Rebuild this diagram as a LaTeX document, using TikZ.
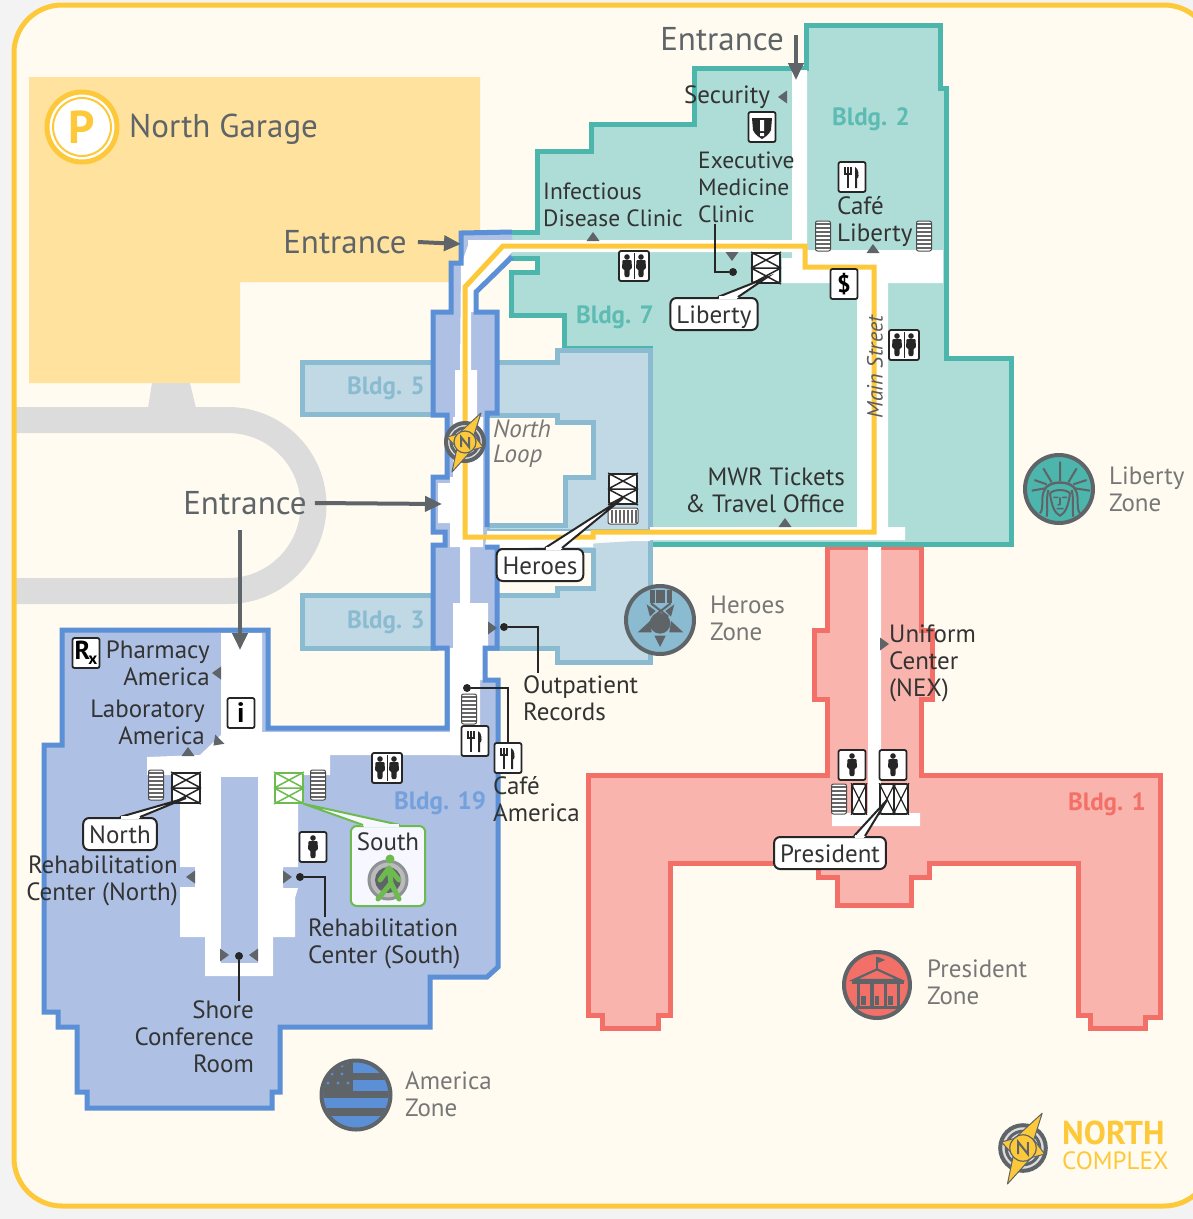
\documentclass[tikz,border=0pt]{standalone}
\usepackage{fontspec}
\setmainfont{PT Sans}
\usetikzlibrary{arrows.meta,calc}
\definecolor{pagec}{HTML}{F3F3F3}
\definecolor{creamc}{HTML}{FFFBF0}
\definecolor{yellowc}{HTML}{FDC93A}
\definecolor{garagec}{HTML}{FFE29E}
\definecolor{roadc}{HTML}{DCDCDC}
\definecolor{tealf}{HTML}{AEDCD7}
\definecolor{teals}{HTML}{4CB5AC}
\definecolor{tealt}{HTML}{5CBCB3}
\definecolor{herof}{HTML}{C1D9E5}
\definecolor{heros}{HTML}{8ABBD0}
\definecolor{bluef}{HTML}{AEC0E3}
\definecolor{blues}{HTML}{5B8FD6}
\definecolor{redf}{HTML}{F8B4AD}
\definecolor{reds}{HTML}{F37068}
\definecolor{greyc}{HTML}{5F6468}
\definecolor{darkc}{HTML}{333333}
\definecolor{zonec}{HTML}{777777}
\definecolor{greenc}{HTML}{6DBB4F}
\tikzset{
 lbl/.style={font=\fontsize{25}{27}\selectfont,text=darkc,inner sep=0pt},
 lblL/.style={lbl,align=left,anchor=west},
 lblR/.style={lbl,align=right,anchor=east},
 zone/.style={lblL,text=zonec},
 big/.style={font=\fontsize{33}{36}\selectfont,text=greyc,inner sep=0pt},
 bldg/.style={font=\fontsize{25}{27}\selectfont\bfseries,inner sep=0pt},
 call/.style={lbl,draw=black!85,line width=2pt,fill=white,rounded corners=6pt,inner xsep=6pt,inner ysep=0pt,text height=20pt,text depth=2pt,minimum height=32pt},
 icon/.style={draw=black!85,fill=white,rounded corners=2pt,line width=1.8pt,minimum width=27pt,minimum height=30pt,inner sep=0pt},
 elev/.style={draw=black!85,fill=white,rounded corners=1.5pt,line width=1.8pt,minimum width=28pt,minimum height=30pt,inner sep=0pt},
 stair/.style={draw=black!70,fill=white,rounded corners=2pt,line width=1pt,minimum width=15pt,minimum height=30pt,inner sep=0pt},
 arrowE/.style={draw=greyc,line width=4pt,-{Triangle[length=17pt,width=15pt]}},
 lead/.style={draw=black!85,line width=2pt},
 dotc/.style={circle,fill=black!85,minimum size=8pt,inner sep=0pt},
 mk/.style={fill=greyc},
 pics/man/.style={code={
   \fill[black!85] (0,-9) circle (2.8pt);
   \fill[black!85,rounded corners=1pt] (-4.5,-6) -- (4.5,-6) -- (5,3) -- (2.8,3) -- (2.4,11) -- (-2.4,11) -- (-2.8,3) -- (-5,3) -- cycle;
 }},
 pics/cutlery/.style={code={
   \draw[black!85,line width=2pt] (-4,-10) -- (-4,11);
   \draw[black!85,line width=1.2pt] (-7,-10) -- (-7,-3) -- (-1,-3) -- (-1,-10);
   \fill[black!85] (3,11) -- (3,-10) .. controls (7,-8) and (7,-1) .. (6,1) -- (5,1) -- (5,11) -- cycle;
 }},
 pics/compass/.style={code={
   \draw[draw=greyc,fill=roadc,line width=4pt] (0,0) circle (19pt);
   \draw[greyc,line width=3pt] (0,0) circle (14pt);
   \fill[yellowc,draw=greyc,line width=1pt,line join=round] (16,-29) -- (9,-7) -- (18,5) -- (7,8) -- (-13,30) -- (-8,6) -- (-18,-5) -- (-7,-8) -- cycle;
   \draw[draw=greyc,fill=yellowc,line width=1.2pt] (0,0) circle (11pt);
   \draw[greyc,line width=2pt] (-4,5) -- (-4,-5) -- (4,5) -- (4,-5);
 }},
}
\newcommand\Tri[3]{\fill[mk,shift={(#1,#2)},rotate=#3] (-4pt,-6.5pt) -- (5pt,0pt) -- (-4pt,6.5pt) -- cycle;}
\newcommand\ElevTwo[4]{\node[elev,draw=#4] (#1) at (#2,#3) {};
  \draw[#4,line width=1.5pt] (#1.west)--(#1.east) (#1.north west)--(#1.east) (#1.north east)--(#1.west) (#1.west)--(#1.south east) (#1.east)--(#1.south west);}
\newcommand\ElevOne[3]{\node[elev,minimum width=14pt] (#1) at (#2,#3) {};
  \draw[black!85,line width=1.2pt] (#1.north west)--(#1.south east) (#1.north east)--(#1.south west);}
\newcommand\Stair[3]{\node[stair] (#1) at (#2,#3) {};
  \foreach \s in {-13,-9,-5,-1,3,7,11}{\fill[black!60] ([yshift=\s pt,xshift=1pt]#1.west) rectangle ([yshift=\s pt+2.4pt,xshift=-1pt]#1.east);}}
\newcommand\Rest[3]{\node[icon,minimum width=30pt] (#1) at (#2,#3) {};
  \pic at ($(#1)+(-7,0)$) {man}; \pic at ($(#1)+(7,0)$) {man};
  \draw[black!85,line width=1pt] ([yshift=-3pt]#1.north) -- ([yshift=3pt]#1.south);}
\newcommand\Fork[3]{\node[icon] (#1) at (#2,#3) {}; \pic at (#1) {cutlery};}
\newcommand\Solo[3]{\node[icon] (#1) at (#2,#3) {}; \pic at (#1) {man};}
\begin{document}
\begin{tikzpicture}[x=1pt,y=-1pt,line join=miter]
\useasboundingbox (0,0) rectangle (1193,1219);
\fill[pagec] (0,0) rectangle (1193,1219);
\begin{scope}
\clip (0,0) rectangle (1193,1219);
\fill[creamc,rounded corners=48pt] (14,5) rectangle (1212,1206);
% garage
\fill[garagec] (29,77) -- (480,77) -- (480,282) -- (240,282) -- (240,383) -- (29,383) -- cycle;
% road
\fill[roadc] (152,383) -- (190,383) -- (196,408) -- (148,408) -- cycle;
\draw[roadc,line width=26pt] (15,420) -- (228,420) .. controls (275.2,420) and (313.5,458.3) .. (313.5,505.5) .. controls (313.5,552.7) and (275.2,591) .. (228,591) -- (15,591);
% building 1
\draw[fill=redf,draw=reds,line width=5pt] (827,547) -- (921,547) -- (921,630) -- (932,630) -- (932,699) -- (921,699) -- (921,775) -- (1160,775) -- (1160,1017) -- (1145,1017) -- (1145,1028) -- (1090,1028) -- (1090,1015) -- (1078,1015) -- (1078,863) -- (929,863) -- (929,877) -- (911,877) -- (911,905) -- (837,905) -- (837,877) -- (818,877) -- (818,863) -- (670,863) -- (670,1015) -- (658,1015) -- (658,1028) -- (602,1028) -- (602,1015) -- (588,1015) -- (588,775) -- (827,775) -- (827,699) -- (814,699) -- (814,630) -- (827,630) -- cycle;
\fill[white] (868,540) rectangle (881,814) (832,813) rectangle (920,826);
% teal buildings
\draw[fill=tealf,draw=teals,line width=5pt] (512,232) -- (537,232) -- (537,151) -- (591,151) -- (591,124) -- (694,124) -- (694,68) -- (806,68) -- (806,25) -- (940,25) -- (940,88) -- (946,88) -- (946,358) -- (1011,358) -- (1011,544) -- (650,544) -- (650,348) -- (564,348) -- (564,315) -- (511,315) -- (511,272) -- (537,272) -- (537,258) -- (512,258);
% heroes
\draw[fill=herof,draw=heros,line width=5pt] (302,362) rectangle (435,414);
\draw[fill=herof,draw=heros,line width=5pt] (302,595) rectangle (435,648);
\draw[fill=herof,draw=heros,line width=5pt] (490,362) -- (557,362) -- (557,350) -- (650,350) -- (650,531) -- (487,531) -- (487,525) -- (565,525) -- (565,477) -- (593,477) -- (593,422) -- (557,422) -- (557,415) -- (490,415) -- cycle;
\draw[fill=herof,draw=heros,line width=5pt] (650,540) -- (650,662) -- (557,662) -- (557,648) -- (490,648) -- (490,595) -- (557,595) -- (557,588) -- (593,588) -- (593,550) -- (490,550);
% building 19
\fill[bluef] (512,232) -- (461,233) -- (461,263) -- (451,263) -- (451,312) -- (433,312) -- (433,415) -- (447,415) -- (447,477) -- (433,477) -- (433,532) -- (445,532) -- (445,545) -- (433,545) -- (433,648) -- (447,648) -- (447,728) -- (268,728) -- (268,630) -- (62,630) -- (62,745) -- (44,745) -- (44,1012) -- (58,1012) -- (58,1027) -- (77,1027) -- (77,1092) -- (87,1092) -- (87,1108) -- (272,1108) -- (272,1092) -- (280,1092) -- (280,1027) -- (430,1027) -- (430,977) -- (487,977) -- (498,967) -- (498,680) -- (485,680) -- (485,648) -- (497,648) -- (497,547) -- (485,547) -- (487,530) -- (487,413) -- (497,413) -- (497,312) -- (476,312) -- (476,292) -- (512,257) -- cycle;
% white corridors
\fill[white] (468,240) rectangle (807,252) (792,70) rectangle (807,252) (782,258) rectangle (857,283) (792,250) rectangle (943,283) (857,283) rectangle (888,532) (650,527) rectangle (905,540) (593,534) rectangle (650,541) (487,531) rectangle (593,547);
\fill[white] (470,240) -- (512,240) -- (512,252) -- (476,290) -- (476,312) -- (471,312) -- (471,370) -- (460,370) -- (461,265) -- cycle;
\fill[white] (455,370) rectangle (477,417) (453,417) rectangle (483,477) (450,477) rectangle (483,547) (438,483) rectangle (450,523);
\fill[white] (460,545) rectangle (470,603) (453,603) rectangle (488,650) (450,648) rectangle (485,680) (450,680) rectangle (480,755);
\fill[white] (221,633) -- (262,633) -- (262,732) -- (480,732) -- (480,755) -- (330,755) -- (330,775) -- (298,775) -- (298,867) -- (283,867) -- (283,888) -- (298,888) -- (295,898) -- (295,937) -- (273,937) -- (273,976) -- (205,976) -- (205,937) -- (180,937) -- (180,887) -- (195,887) -- (195,867) -- (180,867) -- (180,775) -- (147,775) -- (147,757) -- (200,755) -- (221,735) -- cycle;
\fill[bluef] (221,777) rectangle (258,963);
% building 19 walls
\draw[blues,line width=5pt] (512,232) -- (461,233) -- (461,263) -- (451,263) -- (451,312) -- (433,312) -- (433,415) -- (447,415) -- (447,477) -- (433,477) -- (433,532) -- (445,532) -- (445,545) -- (433,545) -- (433,648) -- (447,648) -- (447,728) -- (268,728) -- (268,630) -- (62,630) -- (62,745) -- (44,745) -- (44,1012) -- (58,1012) -- (58,1027) -- (77,1027) -- (77,1092) -- (87,1092) -- (87,1108) -- (272,1108) -- (272,1092) -- (280,1092) -- (280,1027) -- (430,1027) -- (430,977) -- (487,977) -- (498,967) -- (498,680) -- (485,680) -- (485,648) -- (497,648) -- (497,547) -- (485,547);
\draw[blues,line width=5pt] (487,527) -- (487,413) -- (497,413) -- (497,312) -- (476,312) -- (476,292) -- (512,257);
% yellow loop
\draw[yellowc,line width=5pt] (465,287) -- (503,246) -- (805,246) -- (805,267) -- (874,267) -- (874,532) -- (593,532) -- (593,537) -- (465,537) -- cycle;
\end{scope}
% border
\draw[yellowc,line width=5pt,rounded corners=48pt] (14,5) rectangle (1212,1206);
% titles
\node[big,anchor=west] (garage) at (129,129) {North Garage};
\node[big] (ent1) at (722,39) {Entrance};
\node[big] (ent2) at (345,242) {Entrance};
\node[big] (ent3) at (245,503) {Entrance};
\coordinate (ent1t) at (796,80);
\coordinate (ent2t) at (461,244);
\coordinate (ent3a) at (442,504);
\coordinate (ent3b) at (240,650);
\coordinate (ent1s) at (796,35);
\coordinate (ent3c) at (240,530);
\draw[arrowE] (ent1s) -- (ent1t);
\draw[arrowE] (ent2.east) ++(11,0) -- (ent2t);
\draw[arrowE] (ent3.east) ++(8,0) -- (ent3a);
\draw[arrowE] (ent3c) -- (ent3b);
% parking badge
\node[circle,draw=yellowc,fill=white,line width=5pt,minimum size=70pt,inner sep=0pt] (pring) at (82,127) {};
\node[circle,draw=yellowc,line width=2pt,fill=white,minimum size=58pt,inner sep=0pt,text=yellowc,font=\fontsize{46}{46}\selectfont\bfseries] (pbadge) at (82,127) {P};
% building names
\node[bldg,text=tealt] (b2) at (871,119) {Bldg. 2};
\node[bldg,text=tealt] (b7) at (615,317) {Bldg. 7};
\node[bldg,text=heros] (b5) at (386,388) {Bldg. 5};
\node[bldg,text=heros] (b3) at (386,622) {Bldg. 3};
\node[bldg,text=blues!85!white] (b19) at (440,803) {Bldg. 19};
\node[bldg,text=reds] (b1) at (1107,804) {Bldg. 1};
% markers
\Tri{783}{97}{180}
\Tri{593}{237}{90}
\Tri{732}{256}{-90}
\Tri{873}{249}{90}
\Tri{785}{523}{90}
\Tri{884}{644}{0}
\Tri{492}{628}{0}
\Tri{217}{673}{180}
\Tri{217}{742}{-135}
\Tri{188}{752}{90}
\Tri{191}{877}{180}
\Tri{287}{877}{0}
\Tri{224}{955}{0}
\Tri{254}{955}{180}
% labels
\node[lbl] (sec) at (727,97) {Security};
\node[lblL,font=\fontsize{23.5}{27}\selectfont] (exec) at (698,187) {Executive\\Medicine\\Clinic};
\node[lblL,font=\fontsize{23.5}{27}\selectfont] (inf) at (543,205) {Infectious\\Disease Clinic};
\node[lblL] (cafel) at (837,222) {Café\\Liberty};
\node[lbl,rotate=90,font=\fontsize{22}{24}\selectfont\itshape,text=darkc!80!white] (main) at (875,367) {Main Street};
\node[lblR] (mwr) at (845,490) {MWR Tickets\\\&\ Travel Office};
\node[lblL,text=zonec,font=\fontsize{25}{25}\selectfont\itshape] (loop) at (493,444) {North\\Loop};
\node[lblL] (outp) at (523,698) {Outpatient\\Records};
\node[lblL] (unif) at (889,663) {Uniform\\Center\\(NEX)};
\node[lblR] (pharm) at (210,663) {Pharmacy\\America};
\node[lblR] (lab) at (205,722) {Laboratory\\America};
\node[lblR] (rehn) at (178,881) {Rehabilitation\\Center (North)};
\node[lblL] (rehs) at (308,944) {Rehabilitation\\Center (South)};
\node[lblR] (shore) at (254,1037) {Shore\\Conference\\Room};
\node[lblL] (cafea) at (493,799) {Café\\America};
\node[zone] (zl) at (1109,489) {Liberty\\Zone};
\node[zone] (zh) at (710,618) {Heroes\\Zone};
\node[zone] (zp) at (927,982) {President\\Zone};
\node[zone] (za) at (405,1094) {America\\Zone};
\node[anchor=west,inner sep=0pt,text=yellowc,font=\fontsize{33}{36}\selectfont\bfseries] (nc1) at (1062,1133) {NORTH};
\node[anchor=west,inner sep=0pt,text=yellowc,font=\fontsize{25}{28}\selectfont] (nc2) at (1062,1161) {COMPLEX};
% icons
\node[icon] (shield) at (762,127) {};
\fill[black!85] (752,118) -- (772,118) -- (771,130) .. controls (769,135) and (765,137) .. (762,139) .. controls (759,137) and (755,135) .. (753,130) -- cycle;
\fill[white] (760,120) rectangle (764,131) (760,133) rectangle (764,136);
\Fork{forkl}{852}{177}
\Stair{stl}{823}{236}
\Stair{str}{924}{236}
\Rest{r7}{634}{266}
\Rest{r2}{904}{345}
\Rest{r19}{387}{768}
\ElevTwo{elib}{766}{268}{black!85}
\node[icon,font=\fontsize{24}{24}\selectfont\bfseries,text=black] (dollar) at (844,284) {\$};
\ElevTwo{ehero}{623}{489}{black!85}
\node[stair,minimum width=30pt,minimum height=16pt] (sthero) at (623,516) {};
\foreach \s in {3,7,11,15,19,23,27}{\fill[black!60] ([xshift=\s pt,yshift=-2pt]sthero.north west) rectangle ([xshift=\s pt+2pt,yshift=2pt]sthero.south west);}
\node[icon,font=\fontsize{26}{26}\selectfont\bfseries,text=black] (rx) at (86,653) {R\kern-2pt\raisebox{-5pt}{\fontsize{17}{17}\selectfont x}};
\node[icon,font=\fontsize{28}{28}\selectfont\bfseries,text=black] (info) at (241,713) {i};
\Stair{stn}{156}{785}
\ElevTwo{enorth}{186}{788}{black!85}
\ElevTwo{esouth}{289}{788}{greenc}
\Stair{sts}{318}{785}
\Solo{ms}{313}{847}
\Stair{sta}{469}{709}
\Fork{fa1}{475}{741}
\Fork{fa2}{508}{758}
\Solo{m1a}{852}{765}
\Solo{m1b}{893}{765}
\Stair{st1}{839}{799}
\ElevOne{e1a}{859}{799}
\ElevOne{e1b}{887}{799}
\ElevOne{e1c}{901}{799}
% leaders
\node[dotc] (dexec) at (733,272) {};
\node[dotc] (doutp) at (504,627) {};
\node[dotc] (dcafe) at (467,688) {};
\node[dotc] (dreh) at (300,877) {};
\node[dotc] (dshore) at (239,956) {};
\draw[lead] ([xshift=17pt,yshift=-1pt]exec.south west) |- (dexec);
\draw[lead] (doutp) -| ([xshift=15pt,yshift=2pt]outp.north west);
\draw[lead] (dcafe) -| (fa2.north);
\draw[lead] (dreh) -| ([xshift=17pt,yshift=2pt]rehs.north west);
\draw[lead] (dshore) -- (dshore |- shore.north);
% callouts
\node[call] (cliberty) at (714,314) {Liberty};
\node[call] (cheroes) at (540,565) {Heroes};
\node[call] (cnorth) at (120,834) {North};
\node[call] (cpres) at (830,853) {President};
\node[call,draw=greenc,minimum width=74pt,minimum height=80pt,text depth=52pt,text height=20pt,fill=blue!3!white] (csouth) at (388,866) {South};
\foreach \n/\t/\a/\b/\d in {cliberty/elib/4/24/10, cheroes/ehero/5/22/9, cnorth/enorth/0/20/10, cpres/e1b/24/35/1}{
  \fill[white] ([yshift=-1pt,xshift=\a pt]\n.north) -- ([yshift=-\d pt]\t.center) -- ([yshift=-1pt,xshift=\b pt]\n.north) -- cycle;
  \draw[black!85,line width=2pt] ([xshift=\a pt]\n.north) -- ([yshift=-\d pt]\t.center) -- ([xshift=\b pt]\n.north);
  \fill[white] ([yshift=1.2pt,xshift=\a pt+1pt]\n.north) rectangle ([yshift=-1.5pt,xshift=\b pt-1pt]\n.north);
}
\fill[blue!3!white] ([xshift=-25pt,yshift=-1pt]csouth.north) -- (esouth.south east) -- ([xshift=12pt,yshift=-1pt]csouth.north) -- cycle;
\draw[greenc,line width=2pt] ([xshift=-25pt]csouth.north) -- (esouth.south east) -- ([xshift=12pt]csouth.north);
\fill[blue!3!white] ([xshift=-24pt,yshift=1.2pt]csouth.north) rectangle ([xshift=11pt,yshift=-1.5pt]csouth.north);
\draw[fill=zonec!50!white,draw=greyc!70!white,line width=3pt] (388,880) circle (19pt);
\fill[greyc] (388,880) circle (13pt);
\fill[greenc] (390,859) circle (4.5pt);
\draw[greenc,line width=5pt,line cap=round] (389,868) -- (391,883) -- (399,899) (391,883) -- (378,899) (389,868) -- (380,880) (389,868) -- (399,880);
% Liberty badge
\draw[fill=teals,draw=greyc,line width=4pt] (1059,489) circle (34pt);
\begin{scope}[shift={(1015,445)},scale=.3333,draw=greyc,line width=2pt]
\draw (135,108) -- (135,50) (110,112) -- (85,70) (160,112) -- (185,70) (95,118) -- (58,105) (175,118) -- (215,105) (90,130) -- (50,137) (180,130) -- (225,137);
\draw[line width=2.4pt] (88,135) .. controls (100,105) and (170,105) .. (182,135);
\draw (88,135) .. controls (76,160) and (88,190) .. (75,205) (182,135) .. controls (194,160) and (182,190) .. (195,205);
\draw (100,135) .. controls (92,165) and (100,190) .. (95,215) (170,135) .. controls (178,165) and (170,190) .. (175,215);
\draw (105,145) .. controls (110,185) and (120,205) .. (135,212) .. controls (150,205) and (160,185) .. (165,145) .. controls (155,132) and (115,132) .. (105,145);
\draw[line width=1.6pt] (115,157) -- (130,157) (141,157) -- (156,157) (135,157) -- (135,178) -- (128,180) (125,191) -- (146,191);
\end{scope}
% Heroes badge
\draw[fill=heros,draw=greyc,line width=4pt] (660,620) circle (34pt);
\begin{scope}[shift={(615,575)},scale=.3333]
\fill[greyc] (105,45) rectangle (170,85);
\draw[heros,line width=1.2pt] (122,45) -- (122,85) (153,45) -- (153,85);
\draw[greyc,line width=2pt] (108,85) -- (160,125) (167,85) -- (115,125);
\fill[greyc] (135,145) circle (31pt);
\fill[greyc] (95,88) -- (122,108) -- (105,125) -- cycle (178,88) -- (151,108) -- (168,125) -- cycle;
\fill[greyc] (68,172) -- (105,138) -- (110,172) -- cycle (205,172) -- (168,138) -- (163,172) -- cycle;
\fill[greyc] (118,182) -- (152,182) -- (135,216) -- cycle;
\end{scope}
% President badge
\draw[fill=reds,draw=greyc,line width=4pt] (877,985) circle (33pt);
\begin{scope}[shift={(832,940)},scale=.3333]
\draw[greyc,line width=2pt] (135,88) -- (135,50);
\fill[greyc] (135,50) -- (160,60) -- (135,70) -- cycle;
\draw[greyc,line width=2.2pt,fill=reds] (135,88) -- (65,120) -- (205,120) -- cycle;
\fill[greyc] (60,120) rectangle (215,132);
\foreach \xx in {75,115,155,195}{\fill[greyc] (\xx,132) rectangle (\xx+10,208);}
\foreach \xx in {88,128,168}{\fill[greyc] (\xx,168) rectangle (\xx+14,195);}
\fill[greyc] (72,198) rectangle (205,208);
\end{scope}
% America badge
\draw[fill=blues,draw=greyc,line width=4pt] (356,1095) circle (34.5pt);
\begin{scope}
\clip (356,1095) circle (32.5pt);
\fill[greyc] (353,1073) rectangle (392,1080);
\fill[greyc] (320,1091) rectangle (392,1098);
\fill[greyc] (320,1108) rectangle (392,1116);
\fill[greyc] (320,1060) rectangle (353,1091);
\foreach \xx/\yy in {342/1074,332/1074,348/1083,338/1083,328/1083,342/1066}{\fill[blues] (\xx,\yy) circle (1.7pt);}
\end{scope}
% compasses
\pic at (465,442) {compass};
\pic[scale=1.2] at (1023,1148) {compass};
\end{tikzpicture}
\end{document}
